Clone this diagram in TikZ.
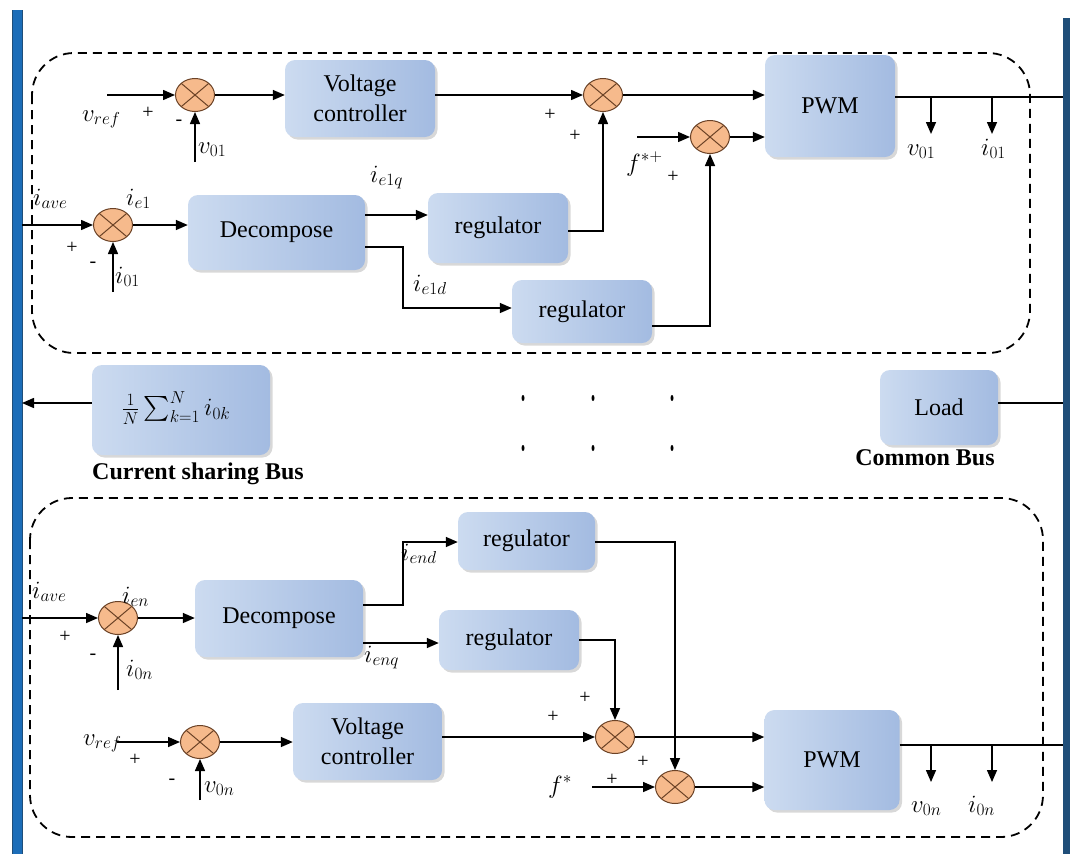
\documentclass[tikz,border=0pt]{standalone}
\usepackage{exscale}
\usepackage{fontspec}
\setmainfont{Liberation Serif}
\usetikzlibrary{arrows.meta,shapes.geometric,shadows,calc}

\definecolor{busblue}{HTML}{1C6DB8}
\definecolor{busdark}{HTML}{1F4E79}
\definecolor{boxleft}{HTML}{CCDBF0}
\definecolor{boxright}{HTML}{A3BBE1}
\definecolor{sumfill}{HTML}{F6BA8C}
\definecolor{sumline}{HTML}{6B4226}

\tikzset{
  blk/.style={draw=none, rounded corners=10pt, left color=boxleft, right color=boxright,
    drop shadow={shadow xshift=2.5pt, shadow yshift=-2.5pt, opacity=0.3},
    align=center, inner sep=0pt, font=\fontsize{24}{30}\selectfont},
  sumj/.style={ellipse, draw=sumline, line width=1pt, fill=sumfill,
    minimum width=39pt, minimum height=33pt, inner sep=0pt,
    path picture={\draw[sumline, line width=1pt]
      (path picture bounding box.north west) -- (path picture bounding box.south east)
      (path picture bounding box.north east) -- (path picture bounding box.south west);}},
  arr/.style={line width=1.5pt, -{Triangle[length=12pt,width=10pt]}},
  wire/.style={line width=1.5pt},
  frame/.style={line width=1.8pt, dash pattern=on 9pt off 6pt, rounded corners=42pt},
  lbl/.style={font=\fontsize{27}{30}\selectfont, inner sep=0pt, anchor=base west},
  sgn/.style={font=\fontsize{20}{24}\selectfont, inner sep=0pt},
  busname/.style={font=\bfseries\fontsize{24}{28}\selectfont, inner sep=0pt},
  dot/.style={fill=black, draw=none, ellipse, minimum width=3pt, minimum height=6pt, inner sep=0pt},
}

\begin{document}
\begin{tikzpicture}[x=1pt,y=-1pt]
\useasboundingbox (0,0) rectangle (1070,854);
\fill[white] (0,0) rectangle (1070,854);

% buses
\fill[busblue] (12,10) rectangle (22,854);
\draw[busdark, line width=0.8pt] (12,10) -- (12,854) (22,10) -- (22,854);
\fill[busdark] (1063,18) rectangle (1070,854);

% module frames
\draw[frame] (32,53) rectangle (1030,353);
\draw[frame] (30,498) rectangle (1043,837);

% ---------- module 1 ----------
\node[blk, minimum width=150pt, minimum height=77pt] (vc1) at (360,98.5) {Voltage\\controller};
\node[blk, minimum width=130pt, minimum height=102pt] (pwm1) at (830,106) {PWM};
\node[blk, minimum width=177pt, minimum height=75pt] (dec1) at (276.5,232.5) {Decompose};
\node[blk, minimum width=140pt, minimum height=70pt] (reg1) at (498,228) {regulator};
\node[blk, minimum width=140pt, minimum height=63pt] (reg2) at (582,311.5) {regulator};

\node[sumj] (s1) at (195,95) {};
\node[sumj] (s2) at (603,95) {};
\node[sumj] (s3) at (710,137) {};
\node[sumj] (s4) at (113,225) {};

\coordinate (vrefA) at (107,95);
\coordinate (v01A) at (195,162);
\coordinate (fA) at (637,137);
\coordinate (iaveA) at (22,225);
\coordinate (i01A) at (113,292);
\coordinate (busR1) at (1063,97);
\coordinate (tapv1) at (931,97);
\coordinate (tapv1e) at (931,134);
\coordinate (tapi1) at (992,97);
\coordinate (tapi1e) at (992,134);

\draw[arr] (vrefA) -- (s1);
\draw[arr] (v01A) -- (s1);
\draw[arr] (s1) -- (s1 -| vc1.west);
\draw[arr] (vc1.east |- s2) -- (s2);
\draw[arr] (s2) -- (s2 -| pwm1.west);
\draw[arr] (fA) -- (s3);
\draw[arr] (s3) -- (s3 -| pwm1.west);
\draw[arr] (reg1.east |- 0,231) -| (s2);
\draw[arr] (reg2.east |- 0,326) -| (s3);
\draw[arr] (iaveA) -- (s4);
\draw[arr] (i01A) -- (s4);
\draw[arr] (s4) -- (s4 -| dec1.west);
\draw[arr] (dec1.east |- 0,215) -- (reg1.west |- 0,215);
\draw[arr] (dec1.east |- 0,247) -- (403,247) -- (403,308) -- (reg2.west |- 0,308);
\draw[wire] (pwm1.east |- busR1) -- (busR1);
\draw[arr] (tapv1) -- (tapv1e);
\draw[arr] (tapi1) -- (tapi1e);

\node[lbl] at (82,121) {$v_{ref}$};
\node[sgn] at (148,113) {+};
\node[sgn] at (179,123) {-};
\node[lbl] at (198,153) {$v_{01}$};
\node[lbl] at (370,182) {$i_{e1q}$};
\node[lbl] at (33,205) {$i_{ave}$};
\node[lbl] at (126,205) {$i_{e1}$};
\node[sgn] at (72,248) {+};
\node[sgn] at (93,265) {-};
\node[lbl] at (115,283) {$i_{01}$};
\node[lbl] at (413,291) {$i_{e1d}$};
\node[sgn] at (550,115) {+};
\node[sgn] at (575,136) {+};
\node[lbl] at (626,171) {$f^{*+}$};
\node[sgn] at (673,177) {+};
\node[lbl] at (907,155) {$v_{01}$};
\node[lbl] at (981,155) {$i_{01}$};

% ---------- shared buses ----------
\node[blk, minimum width=178pt, minimum height=90pt] (avg) at (181,410) {};
\node[font=\fontsize{23}{26}\selectfont, inner sep=0pt] (avgtxt) at (176,408) {$\frac{1}{N}\sum_{k=1}^{N} i_{0k}$};
\node[blk, minimum width=118pt, minimum height=75pt] (load) at (939,407.5) {Load};
\coordinate (busL) at (22,403);
\coordinate (busR) at (1063,403);
\draw[arr] (avg.west |- busL) -- (busL);
\draw[wire] (load.east |- busR) -- (busR);
\node[busname] at (198,474) {Current sharing Bus};
\node[busname] at (925,458) {Common Bus};
\foreach \xx in {523,593,672}{
  \node[dot] at (\xx,398) {};
  \node[dot] at (\xx,448) {};
}

% ---------- module n ----------
\node[blk, minimum width=168pt, minimum height=77pt] (dec2) at (279,618.5) {Decompose};
\node[blk, minimum width=137pt, minimum height=58pt] (reg3) at (526.5,541) {regulator};
\node[blk, minimum width=140pt, minimum height=60pt] (reg4) at (509,640) {regulator};
\node[blk, minimum width=149pt, minimum height=77pt] (vc2) at (367.5,741.5) {Voltage\\controller};
\node[blk, minimum width=135pt, minimum height=100pt] (pwm2) at (832,760) {PWM};

\node[sumj] (s5) at (118,618) {};
\node[sumj] (s8) at (200,742) {};
\node[sumj] (s6) at (615,737) {};
\node[sumj] (s7) at (675,787) {};

\coordinate (iaveB) at (22,618);
\coordinate (i0nB) at (118,690);
\coordinate (vrefB) at (117,742);
\coordinate (v0nB) at (200,800);
\coordinate (fB) at (592,787);
\coordinate (busR2) at (1063,745);
\coordinate (tapv2) at (931,745);
\coordinate (tapv2e) at (931,782);
\coordinate (tapi2) at (992,745);
\coordinate (tapi2e) at (992,782);

\draw[arr] (iaveB) -- (s5);
\draw[arr] (i0nB) -- (s5);
\draw[arr] (s5) -- (s5 -| dec2.west);
\draw[arr] (dec2.east |- 0,605) -- (403,605) -- (403,542) -- (reg3.west |- 0,542);
\draw[arr] (dec2.east |- 0,643) -- (reg4.west |- 0,643);
\draw[arr] (reg3.east |- 0,542) -| (s7);
\draw[arr] (reg4.east |- 0,640) -| (s6);
\draw[arr] (vrefB) -- (s8);
\draw[arr] (v0nB) -- (s8);
\draw[arr] (s8) -- (s8 -| vc2.west);
\draw[arr] (vc2.east |- s6) -- (s6);
\draw[arr] (s6) -- (s6 -| pwm2.west);
\draw[arr] (fB) -- (s7);
\draw[arr] (s7) -- (s7 -| pwm2.west);
\draw[wire] (pwm2.east |- busR2) -- (busR2);
\draw[arr] (tapv2) -- (tapv2e);
\draw[arr] (tapi2) -- (tapi2e);

\node[lbl] at (32,598) {$i_{ave}$};
\node[lbl] at (122,603) {$i_{en}$};
\node[sgn] at (65,637) {+};
\node[sgn] at (93,657) {-};
\node[lbl] at (126,676) {$i_{0n}$};
\node[lbl] at (401,560) {$i_{end}$};
\node[lbl] at (364,662) {$i_{enq}$};
\node[lbl] at (83,745) {$v_{ref}$};
\node[sgn] at (135,760) {+};
\node[sgn] at (172,782) {-};
\node[lbl] at (204,792) {$v_{0n}$};
\node[sgn] at (553,717) {+};
\node[sgn] at (585,698) {+};
\node[sgn] at (643,762) {+};
\node[sgn] at (612,780) {+};
\node[lbl] at (548,793) {$f^{*}$};
\node[lbl] at (911,812) {$v_{0n}$};
\node[lbl] at (968,812) {$i_{0n}$};
\end{tikzpicture}
\end{document}
